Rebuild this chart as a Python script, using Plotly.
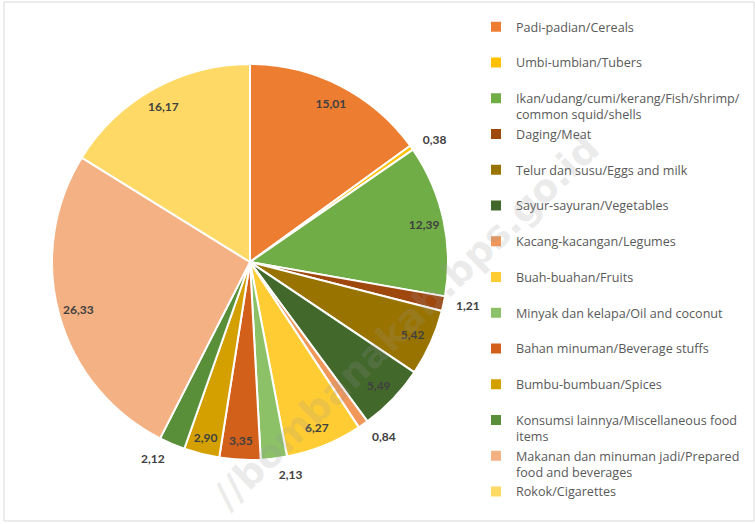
import plotly.graph_objects as go

categories = [
    "Padi-padian/Cereals",
    "Umbi-umbian/Tubers",
    "Ikan/udang/cumi/kerang/Fish/shrimp/<br>common squid/shells",
    "Daging/Meat",
    "Telur dan susu/Eggs and milk",
    "Sayur-sayuran/Vegetables",
    "Kacang-kacangan/Legumes",
    "Buah-buahan/Fruits",
    "Minyak dan kelapa/Oil and coconut",
    "Bahan minuman/Beverage stuffs",
    "Bumbu-bumbuan/Spices",
    "Konsumsi lainnya/Miscellaneous food<br>items",
    "Makanan dan minuman jadi/Prepared<br>food and beverages",
    "Rokok/Cigarettes",
]
values = [15.01, 0.38, 12.39, 1.21, 5.42, 5.49, 0.84, 6.27, 2.13, 3.35, 2.90, 2.12, 26.33, 16.17]
colors = ["#ED7D31", "#FFC000", "#70AD47", "#9E480E", "#997300", "#43682B", "#F1975A",
          "#FFCD33", "#8CC168", "#D2601A", "#D4A000", "#5A8F3A", "#F4B183", "#FFD966"]
outside = [False, True, False, True, False, False, True,
           False, True, False, False, True, False, False]

labels_legend = [c if "<br>" in c else c + "<br>\u00a0" for c in categories]
text = [f"{v:.2f}".replace(".", ",") for v in values]

W, H = 755, 524
ml, mr, mt, mb = 0, 0, 40, 40
ph = H - mt - mb
CX, CY, R = 250, 262, 198

def py(px):
    return (H - mb - px) / ph

def dom(r):
    return dict(x=[(CX - r) / W, (CX + r) / W], y=[py(CY + r), py(CY - r)])

label_font = dict(family="Lato", size=12, color="#404040", weight="bold")
common = dict(labels=labels_legend, values=values, sort=False,
              direction="clockwise", rotation=0)

# coloured slices
fig = go.Figure(go.Pie(
    **common,
    textinfo="none",
    marker=dict(colors=colors, line=dict(color="white", width=2)),
    domain=dom(R),
    hoverinfo="label+value",
))

# transparent ring carrying the inside data labels near the outer edge
fig.add_trace(go.Pie(
    **common,
    text=text,
    textinfo="text",
    textposition=["none" if o else "inside" for o in outside],
    insidetextorientation="horizontal",
    hole=0.8,
    marker=dict(colors=["rgba(0,0,0,0)"] * len(values), line=dict(width=0)),
    textfont=label_font,
    domain=dom(R),
    showlegend=False,
    hoverinfo="skip",
))

# transparent, slightly larger pie carrying the outside data labels
fig.add_trace(go.Pie(
    **common,
    text=text,
    textinfo="text",
    textposition=["outside" if o else "none" for o in outside],
    hole=0.95,
    marker=dict(colors=["rgba(0,0,0,0)"] * len(values), line=dict(width=0)),
    textfont=label_font,
    domain=dom(R + 9),
    showlegend=False,
    hoverinfo="skip",
))

fig.update_layout(
    width=W, height=H,
    margin=dict(l=ml, r=mr, t=mt, b=mb),
    paper_bgcolor="white",
    plot_bgcolor="white",
    uniformtext=dict(minsize=12, mode="show"),
    legend=dict(
        x=476 / W, xanchor="left",
        y=py(12), yanchor="top",
        valign="top",
        font=dict(family="Open Sans", size=12.6, color="#595959"),
        itemwidth=30,
        maxheight=520,
        bgcolor="rgba(0,0,0,0)",
    ),
    shapes=[dict(type="rect", xref="paper", yref="paper",
                 x0=4 / W, x1=754 / W, y0=py(521), y1=py(2),
                 line=dict(color="#D9D9D9", width=1), fillcolor="rgba(0,0,0,0)", layer="below")],
    annotations=[dict(text="//bombanakab.bps.go.id", xref="paper", yref="paper",
                      x=406 / W, y=py(322), xanchor="center", yanchor="middle",
                      showarrow=False, textangle=-44,
                      font=dict(family="DejaVu Sans", size=38, color="rgba(150,150,150,0.2)",
                                weight="bold"))],
)

fig.write_html("out.html", config={"displayModeBar": False},
               post_script="document.body.style.margin='0';document.body.style.overflow='hidden';")
